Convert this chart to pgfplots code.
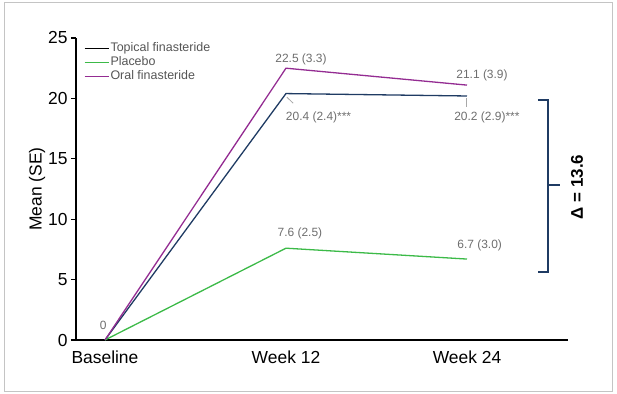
\documentclass[border=0pt]{standalone}
\usepackage{pgfplots}
\pgfplotsset{compat=1.18}
\usepackage{fontspec}
\setmainfont{Liberation Sans}
\definecolor{navy}{HTML}{1F3B63}
\definecolor{oral}{HTML}{942C92}
\definecolor{plac}{HTML}{3CBA48}
\definecolor{anno}{HTML}{6E6E6E}
\definecolor{legtxt}{HTML}{555555}
\definecolor{frame}{HTML}{C4C4C4}
\begin{document}
\begin{tikzpicture}
\path[use as bounding box] (0,0) rectangle (617bp,394bp);
\draw[frame, line width=1bp] (4.5bp,2.5bp) rectangle (612.5bp,391bp);
\begin{axis}[
  at={(76bp,54bp)}, anchor=south west,
  scale only axis, width=492bp, height=302bp,
  xmin=-0.16, xmax=2.558, ymin=0, ymax=25,
  axis x line=bottom, axis y line=left,
  axis line style={-, line width=1.3bp, black},
  xtick={0,1,2}, xticklabels={Baseline, Week 12, Week 24},
  major x tick style={draw=none},
  ytick={0,5,10,15,20,25},
  tick align=outside, major tick length=5bp,
  major y tick style={line width=1.2bp, black},
  ticklabel style={font=\fontsize{17.5}{20}\selectfont},
  xticklabel style={yshift=-2bp},
  /pgf/number format/assume math mode=true,
  clip=false,
  legend style={at={(rel axis cs:0.016,0.99)}, anchor=north west, draw=none, fill=none,
    font=\fontsize{12.5}{14}\selectfont, text=legtxt, inner sep=0pt,
    row sep=0bp, nodes={inner sep=1.25bp, text height=9bp, text depth=2.5bp}},
  legend cell align=left,
  legend image code/.code={\draw[#1, line width=1.2bp] (0bp,0bp) -- (24bp,0bp);},
]
\addlegendimage{black}
\addlegendentry{Topical finasteride}
\addlegendimage{plac}
\addlegendentry{Placebo}
\addlegendimage{oral}
\addlegendentry{Oral finasteride}

\addplot[forget plot, navy, line width=1.3bp] coordinates {(0,0) (1,20.4) (2,20.2)};
\addplot[forget plot, plac, line width=1.3bp] coordinates {(0,0) (1,7.6) (2,6.7)};
\addplot[forget plot, oral, line width=1.3bp] coordinates {(0,0) (1,22.5) (2,21.1)};

\draw[anno!60, line width=0.8bp] (axis cs:1.005,20.1) -- (axis cs:1.04,19.6);
\draw[anno!60, line width=0.8bp] (axis cs:1.995,20.0) -- (axis cs:1.995,19.3);

\begin{scope}[every node/.style={font=\fontsize{12}{13}\selectfont, text=anno}]
\node at (axis cs:-0.01,1.25) {0};
\node at (axis cs:1.083,23.2) {22.5 (3.3)};
\node at (axis cs:1.18,18.46) {20.4 (2.4)***};
\node at (axis cs:2.083,21.94) {21.1 (3.9)};
\node at (axis cs:2.11,18.46) {20.2 (2.9)***};
\node at (axis cs:1.077,8.86) {7.6 (2.5)};
\node at (axis cs:2.07,7.86) {6.7 (3.0)};
\end{scope}

\draw[navy, line width=1.4bp] (axis cs:2.392,19.87) -- (axis cs:2.448,19.87) -- (axis cs:2.448,5.63) -- (axis cs:2.392,5.63);
\draw[navy, line width=1.4bp] (axis cs:2.448,12.83) -- (axis cs:2.514,12.83);
\node[rotate=90, font=\bfseries\fontsize{17}{20}\selectfont] at (axis cs:2.608,12.67) {Δ = 13.6};

\node[rotate=90, font=\fontsize{17.5}{20}\selectfont] at (rel axis cs:-0.079,0.5) {Mean (SE)};
\end{axis}
\end{tikzpicture}
\end{document}
